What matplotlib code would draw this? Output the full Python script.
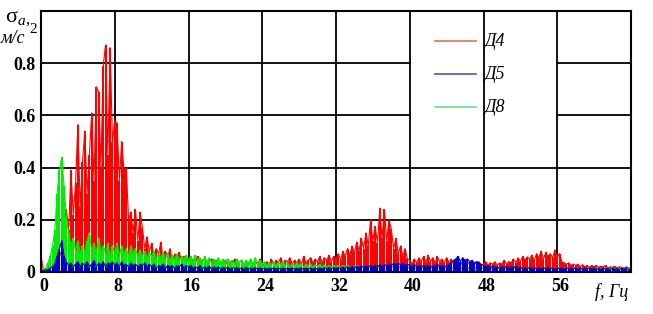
import matplotlib.pyplot as plt
import matplotlib.transforms as mtransforms
import numpy as np
from matplotlib.patches import Rectangle

# spectrum samples every 0.25 Hz, 0..64 Hz
step_hz = 0.25

d4 = [
    0.06, 0.01, 0.01, 0.015, 0.02, 0.02, 0.03, 0.04, 0.06, 0.08, 0.12, 0.24, 0.16, 0.39, 0.22, 0.34,
    0.565, 0.25, 0.42, 0.54, 0.30, 0.45, 0.61, 0.35, 0.71, 0.69, 0.40, 0.79, 0.87, 0.45, 0.86, 0.50,
    0.58, 0.57, 0.35, 0.50, 0.39, 0.40, 0.20, 0.23, 0.15, 0.24, 0.12, 0.23, 0.17, 0.09, 0.135, 0.08,
    0.11, 0.06, 0.09, 0.07, 0.115, 0.05, 0.08, 0.06, 0.09, 0.04, 0.07, 0.05, 0.075, 0.04, 0.06, 0.035,
    0.055, 0.03, 0.05, 0.035, 0.06, 0.03, 0.045, 0.05, 0.03, 0.04, 0.05, 0.03, 0.045, 0.025, 0.04, 0.03,
    0.045, 0.025, 0.04, 0.03, 0.05, 0.025, 0.035, 0.045, 0.025, 0.04, 0.03, 0.045, 0.025, 0.04, 0.03, 0.05,
    0.035, 0.02, 0.04, 0.03, 0.05, 0.025, 0.045, 0.035, 0.055, 0.03, 0.045, 0.04, 0.055, 0.03, 0.045, 0.035,
    0.05, 0.03, 0.06, 0.035, 0.045, 0.055, 0.035, 0.05, 0.04, 0.06, 0.035, 0.055, 0.045, 0.065, 0.04, 0.06,
    0.05, 0.07, 0.045, 0.08, 0.06, 0.09, 0.065, 0.10, 0.075, 0.115, 0.08, 0.13, 0.09, 0.15, 0.10, 0.20,
    0.12, 0.175, 0.11, 0.245, 0.13, 0.24, 0.12, 0.20, 0.165, 0.09, 0.13, 0.07, 0.10, 0.06, 0.09, 0.05,
    0.045, 0.03, 0.05, 0.035, 0.055, 0.04, 0.06, 0.035, 0.065, 0.04, 0.055, 0.035, 0.06, 0.04, 0.05, 0.035,
    0.055, 0.035, 0.05, 0.03, 0.045, 0.03, 0.04, 0.025, 0.035, 0.03, 0.04, 0.025, 0.035, 0.03, 0.04, 0.025,
    0.03, 0.04, 0.025, 0.035, 0.03, 0.04, 0.025, 0.035, 0.03, 0.045, 0.03, 0.04, 0.035, 0.05, 0.035, 0.055,
    0.04, 0.06, 0.045, 0.058, 0.05, 0.065, 0.045, 0.07, 0.055, 0.08, 0.05, 0.075, 0.06, 0.07, 0.055, 0.085,
    0.06, 0.07, 0.04, 0.035, 0.03, 0.035, 0.025, 0.03, 0.025, 0.03, 0.02, 0.028, 0.02, 0.025, 0.018, 0.025,
    0.02, 0.025, 0.018, 0.022, 0.02, 0.025, 0.015, 0.02, 0.018, 0.022, 0.015, 0.02, 0.018, 0.015, 0.02, 0.015,
    0.015,
]

d8 = [
    0.01, 0.01, 0.015, 0.035, 0.06, 0.10, 0.16, 0.30, 0.39, 0.44, 0.33, 0.21, 0.15, 0.10, 0.13, 0.08,
    0.12, 0.07, 0.10, 0.08, 0.12, 0.15, 0.08, 0.11, 0.07, 0.13, 0.08, 0.10, 0.07, 0.11, 0.06, 0.10,
    0.07, 0.11, 0.06, 0.10, 0.07, 0.09, 0.06, 0.10, 0.07, 0.09, 0.06, 0.085, 0.06, 0.08, 0.055, 0.075,
    0.06, 0.08, 0.05, 0.07, 0.055, 0.075, 0.05, 0.07, 0.045, 0.065, 0.05, 0.07, 0.045, 0.06, 0.05, 0.065,
    0.045, 0.06, 0.04, 0.065, 0.045, 0.055, 0.035, 0.06, 0.04, 0.055, 0.035, 0.05, 0.04, 0.055, 0.035, 0.05,
    0.04, 0.05, 0.035, 0.045, 0.03, 0.05, 0.035, 0.045, 0.03, 0.045, 0.035, 0.05, 0.03, 0.055, 0.035, 0.045,
    0.03, 0.04, 0.025, 0.035, 0.03, 0.04, 0.025, 0.035, 0.03, 0.04, 0.025, 0.035, 0.02, 0.03, 0.025, 0.035,
    0.025, 0.03, 0.02, 0.03, 0.025, 0.03, 0.02, 0.028, 0.022, 0.03, 0.02, 0.028, 0.02, 0.025, 0.018, 0.025,
    0.02, 0.025, 0.018, 0.025, 0.02, 0.025, 0.018, 0.022, 0.02, 0.025, 0.018, 0.022, 0.02, 0.025, 0.018, 0.022,
    0.02, 0.025, 0.018, 0.022, 0.02, 0.025, 0.018, 0.022, 0.02, 0.02, 0.018, 0.022, 0.016, 0.02, 0.015, 0.02,
    0.015, 0.02, 0.014, 0.018, 0.015, 0.02, 0.014, 0.018, 0.015, 0.019, 0.013, 0.018, 0.015, 0.02, 0.013, 0.018,
    0.014, 0.018, 0.013, 0.017, 0.014, 0.018, 0.013, 0.017, 0.014, 0.018, 0.012, 0.017, 0.014, 0.018, 0.012, 0.016,
    0.013, 0.017, 0.012, 0.016, 0.013, 0.017, 0.012, 0.016, 0.013, 0.017, 0.012, 0.016, 0.013, 0.017, 0.012, 0.016,
    0.013, 0.017, 0.012, 0.016, 0.013, 0.017, 0.012, 0.016, 0.013, 0.017, 0.012, 0.016, 0.013, 0.017, 0.012, 0.016,
    0.013, 0.016, 0.012, 0.015, 0.013, 0.016, 0.012, 0.015, 0.013, 0.016, 0.012, 0.015, 0.013, 0.016, 0.012, 0.015,
    0.012, 0.015, 0.011, 0.014, 0.012, 0.015, 0.011, 0.014, 0.012, 0.015, 0.011, 0.014, 0.012, 0.015, 0.011, 0.014,
    0.012,
]

d5 = [
    0.005, 0.005, 0.008, 0.01, 0.015, 0.02, 0.03, 0.06, 0.09, 0.12, 0.06, 0.04, 0.025, 0.035, 0.02, 0.03,
    0.04, 0.02, 0.035, 0.025, 0.04, 0.02, 0.03, 0.045, 0.02, 0.035, 0.025, 0.04, 0.02, 0.035, 0.03, 0.04,
    0.025, 0.035, 0.02, 0.04, 0.025, 0.03, 0.02, 0.035, 0.025, 0.03, 0.02, 0.03, 0.025, 0.035, 0.02, 0.03,
    0.02, 0.03, 0.015, 0.025, 0.02, 0.03, 0.015, 0.025, 0.02, 0.025, 0.015, 0.025, 0.02, 0.03, 0.015, 0.025,
    0.02, 0.025, 0.015, 0.02, 0.015, 0.025, 0.012, 0.02, 0.015, 0.022, 0.012, 0.02, 0.015, 0.02, 0.012, 0.018,
    0.014, 0.018, 0.012, 0.017, 0.014, 0.018, 0.012, 0.016, 0.013, 0.018, 0.012, 0.016, 0.013, 0.017, 0.012, 0.016,
    0.012, 0.016, 0.011, 0.015, 0.012, 0.016, 0.011, 0.015, 0.012, 0.016, 0.011, 0.015, 0.012, 0.016, 0.011, 0.015,
    0.012, 0.016, 0.011, 0.015, 0.012, 0.016, 0.011, 0.015, 0.012, 0.016, 0.012, 0.017, 0.013, 0.018, 0.012, 0.017,
    0.014, 0.018, 0.013, 0.019, 0.014, 0.02, 0.015, 0.021, 0.016, 0.022, 0.017, 0.023, 0.018, 0.025, 0.019, 0.026,
    0.02, 0.027, 0.021, 0.028, 0.022, 0.03, 0.023, 0.032, 0.025, 0.033, 0.026, 0.035, 0.027, 0.033, 0.025, 0.03,
    0.025, 0.02, 0.03, 0.02, 0.025, 0.02, 0.025, 0.018, 0.025, 0.02, 0.025, 0.02, 0.03, 0.02, 0.025, 0.02,
    0.025, 0.03, 0.035, 0.045, 0.05, 0.06, 0.04, 0.055, 0.045, 0.05, 0.04, 0.045, 0.035, 0.04, 0.035, 0.03,
    0.025, 0.02, 0.025, 0.018, 0.022, 0.018, 0.02, 0.015, 0.02, 0.018, 0.022, 0.015, 0.02, 0.018, 0.022, 0.015,
    0.018, 0.014, 0.017, 0.013, 0.018, 0.014, 0.017, 0.013, 0.018, 0.014, 0.017, 0.013, 0.018, 0.014, 0.017, 0.013,
    0.016, 0.013, 0.015, 0.012, 0.016, 0.013, 0.015, 0.012, 0.016, 0.013, 0.015, 0.012, 0.016, 0.013, 0.015, 0.012,
    0.014, 0.011, 0.013, 0.01, 0.014, 0.011, 0.013, 0.01, 0.014, 0.011, 0.013, 0.01, 0.014, 0.011, 0.013, 0.01,
    0.01,
]

series_names = ["Д4", "Д5", "Д8"]
x_ticks = [0, 8, 16, 24, 32, 40, 48, 56]
y_ticks = [0, 0.2, 0.4, 0.6, 0.8]

freq = np.arange(len(d4)) * step_hz

serif = "Liberation Serif"
fig = plt.figure(figsize=(6.53, 3.14), dpi=100)
ax = fig.add_axes([41 / 653, 1 - 272 / 314, 590 / 653, 261 / 314])

# dense spectra: each sample is a thin stem from zero, tops joined by a line
for vals, col, z in [(d4, "#ff0000", 2), (d8, "#00ee00", 3), (d5, "#0000cc", 4)]:
    ax.vlines(freq, 0, vals, color=col, linewidth=1.5, zorder=z)
    ax.plot(freq, vals, color=col, linewidth=0.8, zorder=z)

ax.set_xlim(0, 64)
ax.set_ylim(0, 1.0)
for xv in x_ticks[1:]:
    ax.axvline(xv, color="black", linewidth=1.3, zorder=1.5)
for yv in y_ticks[1:]:
    ax.axhline(yv, color="black", linewidth=1.3, zorder=1)

# white legend panel hides the grid between 40 and 56 Hz
ax.add_patch(Rectangle((40.12, 0.46), 15.76, 0.6, facecolor="white", edgecolor="none", zorder=1.2))

legend_colors = ["#e8704e", "#5252b8", "#6ce08c"]
for i, (name, col) in enumerate(zip(series_names, legend_colors)):
    y_px = 42 + i * 33
    yv = (272 - y_px) / 260
    ax.plot([42.7, 47.2], [yv, yv], color=col, linewidth=1.2, zorder=5)
    ax.text(48.1, yv, name, fontsize=13, family=serif, style="italic", va="center", ha="left", zorder=5)

ax.set_xticks(x_ticks)
ax.set_yticks(y_ticks)
ax.set_xticklabels([str(v) for v in x_ticks], fontsize=13, family=serif, fontweight="bold")
ax.set_yticklabels(["0", "0.2", "0.4", "0.6", "0.8"], fontsize=13, family=serif, fontweight="bold")
ax.tick_params(length=0, pad=4)
shift = mtransforms.ScaledTranslation(3 / 100, 0, fig.dpi_scale_trans)
for lbl in ax.get_xticklabels():
    lbl.set_transform(lbl.get_transform() + shift)
for side in ["left", "top", "right", "bottom"]:
    ax.spines[side].set_linewidth(1.5)
    ax.spines[side].set_zorder(6)

# axis captions
fig.text(5 / 653, 1 - 22 / 314, "σ", fontsize=16, family=serif, va="baseline")
fig.text(18 / 653, 1 - 25 / 314, "a", fontsize=11, family=serif, style="italic", va="baseline")
fig.text(25 / 653, 1 - 24 / 314, ",", fontsize=12, family=serif, va="baseline")
fig.text(1 / 653, 1 - 43 / 314, "м/с", fontsize=13, family=serif, style="italic", va="baseline")
fig.text(29 / 653, 1 - 33 / 314, "2", fontsize=11, family=serif, va="baseline")
fig.text(612 / 653, 1 - 297 / 314, "f, Гц", fontsize=13, family=serif, style="italic", ha="center", va="baseline")

fig.savefig("out.png", dpi=100)
